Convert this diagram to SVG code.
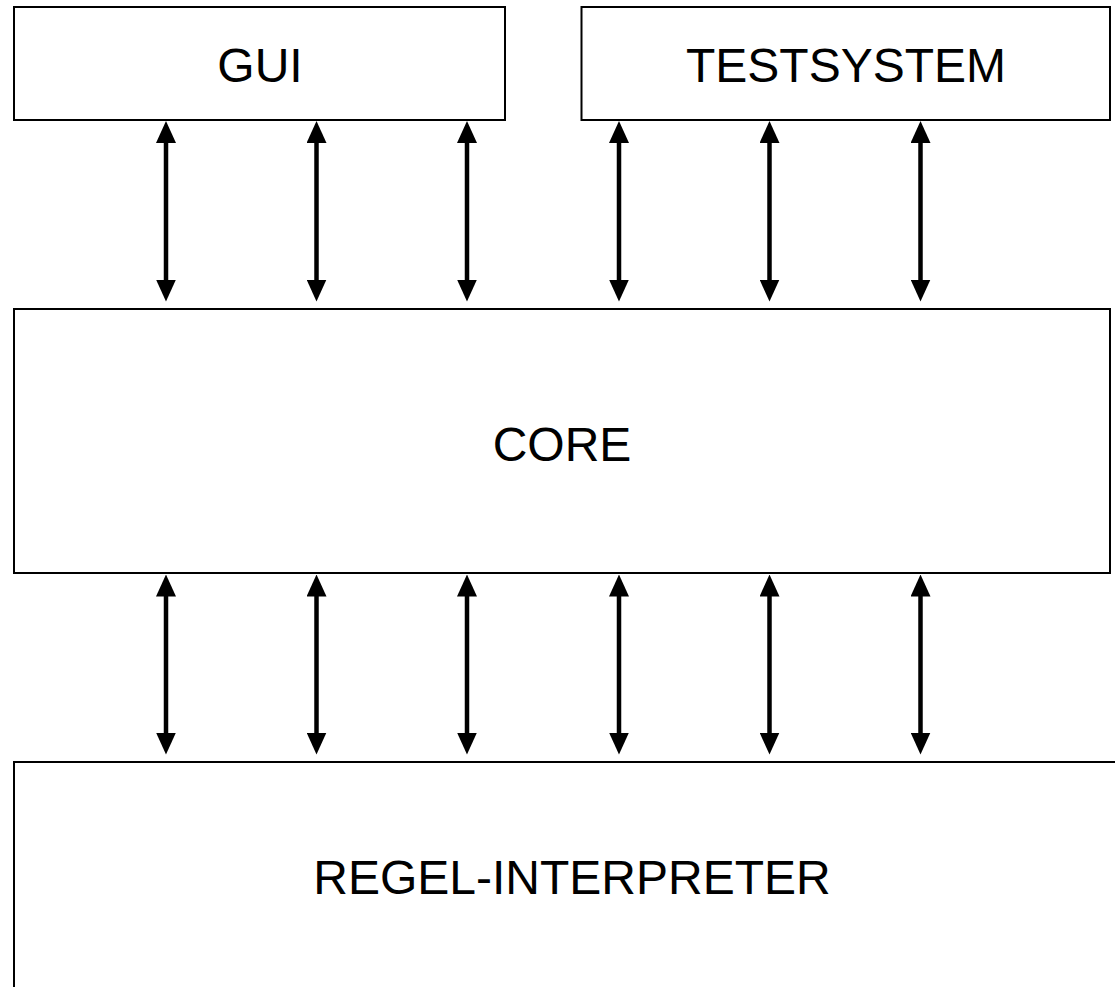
<svg xmlns="http://www.w3.org/2000/svg" width="1115" height="987" viewBox="0 0 1115 987">
  <style>
    .box { fill: #ffffff; stroke: #000000; stroke-width: 2; }
    .label { font-family: "Liberation Sans", Arial, sans-serif; font-size: 48px; fill: #000000; text-anchor: middle; }
    .link { stroke: #000000; stroke-width: 4.5; fill: none; marker-start: url(#head); marker-end: url(#head); }
  </style>
  <defs>
    <!-- filled triangle head; tip sits 10px beyond the line end -->
    <marker id="head" viewBox="0 0 22 20" refX="12" refY="10" markerWidth="22" markerHeight="20" markerUnits="userSpaceOnUse" orient="auto-start-reverse">
      <path d="M0,0 L22,10 L0,20 Z" fill="#000000"/>
    </marker>
  </defs>
  <rect width="1115" height="987" fill="#ffffff"/>

  <g id="gui">
    <rect class="box" x="14" y="7" width="491" height="113"/>
    <text class="label" x="260" y="82">GUI</text>
  </g>
  <g id="testsystem">
    <rect class="box" x="581.5" y="7" width="528.5" height="113"/>
    <text class="label" x="846" y="82">TESTSYSTEM</text>
  </g>
  <g id="core">
    <rect class="box" x="14" y="309" width="1096" height="264"/>
    <text class="label" x="562" y="461">CORE</text>
  </g>
  <g id="regel-interpreter">
    <rect class="box" x="14" y="762" width="1120" height="240"/>
    <text class="label" x="572" y="894">REGEL-INTERPRETER</text>
  </g>

  <g id="connectors">
    <g id="upper">
      <line class="link" x1="166" y1="131" x2="166" y2="291.5"/>
      <line class="link" x1="316.5" y1="131" x2="316.5" y2="291.5"/>
      <line class="link" x1="467" y1="131" x2="467" y2="291.5"/>
      <line class="link" x1="619" y1="131" x2="619" y2="291.5"/>
      <line class="link" x1="769.5" y1="131" x2="769.5" y2="291.5"/>
      <line class="link" x1="920.5" y1="131" x2="920.5" y2="291.5"/>
    </g>
    <g id="lower">
      <line class="link" x1="166" y1="584.5" x2="166" y2="744.5"/>
      <line class="link" x1="316.5" y1="584.5" x2="316.5" y2="744.5"/>
      <line class="link" x1="467" y1="584.5" x2="467" y2="744.5"/>
      <line class="link" x1="619" y1="584.5" x2="619" y2="744.5"/>
      <line class="link" x1="769.5" y1="584.5" x2="769.5" y2="744.5"/>
      <line class="link" x1="920.5" y1="584.5" x2="920.5" y2="744.5"/>
    </g>
  </g>
</svg>
